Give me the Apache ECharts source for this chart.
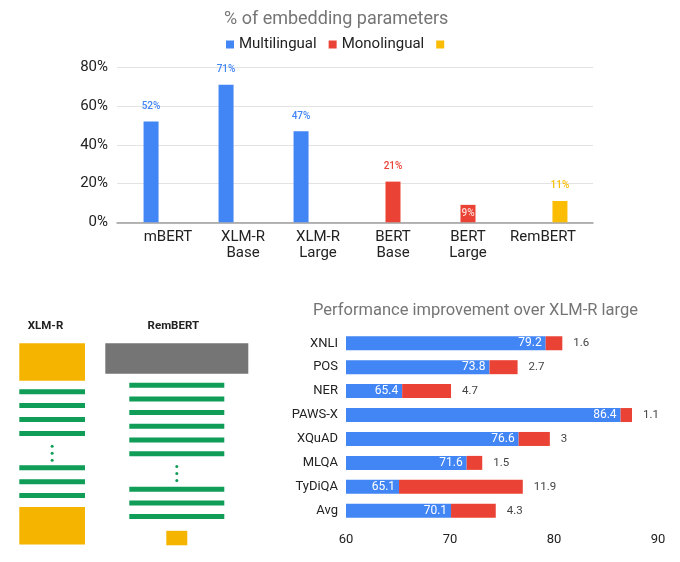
<!DOCTYPE html>
<html>
<head>
<meta charset="utf-8">
<script src="https://cdn.jsdelivr.net/npm/echarts@6/dist/echarts.min.js"></script>
<style>html,body{margin:0;padding:0;background:#fff}#c{width:680px;height:562px}</style>
</head>
<body>
<div id="c"></div>
<script>
// ---- Top chart data ----
const models = ['mBERT', 'XLM-R\nBase', 'XLM-R\nLarge', 'BERT\nBase', 'BERT\nLarge', 'RemBERT'];
const multilingualPct = [52, 71, 47, null, null, null];
const monolingualPct = [null, null, null, 21, 9, null];
const rembertPct = [null, null, null, null, null, 11];
const pctTicks = [0, 20, 40, 60, 80];

// ---- Bottom chart data ----
const tasks = ['XNLI', 'POS', 'NER', 'PAWS-X', 'XQuAD', 'MLQA', 'TyDiQA', 'Avg'];
const xlmrLarge = [79.2, 73.8, 65.4, 86.4, 76.6, 71.6, 65.1, 70.1];
const rembertGain = [1.6, 2.7, 4.7, 1.1, 3, 1.5, 11.9, 4.3];
const scoreTicks = [60, 70, 80, 90];

// ---- Diagram structure ----
const xlmrStack = ['emb', 'layer', 'layer', 'layer', 'layer', 'dots', 'layer', 'layer', 'layer', 'emb'];
const rembertStack = ['proj', 'layer', 'layer', 'layer', 'layer', 'layer', 'layer', 'dots', 'layer', 'layer', 'layer', 'smallEmb'];

const BLUE = '#4285F4', RED = '#EA4335', YELLOW = '#FBBC04';
const GREEN = '#0F9D58', GOLD = '#F4B400', GRAY = '#757575';
const FONT = 'Roboto';

// build diagram graphics
function buildStack(stack, cfg) {
  const els = [];
  let y = cfg.top;
  stack.forEach(kind => {
    if (kind === 'emb') {
      els.push({type: 'rect', shape: {x: cfg.x, y: y, width: cfg.w, height: cfg.embH}, style: {fill: GOLD}});
      y += cfg.embH + cfg.afterEmb;
    } else if (kind === 'proj') {
      els.push({type: 'rect', shape: {x: cfg.projX, y: y, width: cfg.projW, height: cfg.projH}, style: {fill: GRAY}});
      y += cfg.projH + cfg.afterEmb;
    } else if (kind === 'layer') {
      els.push({type: 'rect', shape: {x: cfg.lx, y: y, width: cfg.lw, height: 5}, style: {fill: GREEN}});
      y += cfg.step;
    } else if (kind === 'dots') {
      for (let i = 0; i < 3; i++) {
        els.push({type: 'circle', shape: {cx: cfg.lx + cfg.lw / 2, cy: y + 1.5 + i * 7, r: 1.5}, style: {fill: GREEN}});
      }
      y += cfg.dotsH;
    } else if (kind === 'smallEmb') {
      els.push({type: 'rect', shape: {x: cfg.lx + cfg.lw / 2 - 10.5, y: y + 3, width: 21, height: 14.5}, style: {fill: GOLD}});
    }
  });
  return els;
}

const diagram = [].concat(
  buildStack(xlmrStack, {top: 343.3, x: 19.3, w: 65.7, embH: 37.4, afterEmb: 8.5, lx: 19.3, lw: 65.7, step: 13.9, dotsH: 20.5}),
  buildStack(rembertStack, {top: 343.3, projX: 105.3, projW: 143, projH: 30.4, afterEmb: 9, lx: 129.3, lw: 95, step: 13.7, dotsH: 21.8}),
  [
    {type: 'text', style: {text: 'XLM-R', x: 45.5, y: 325.7, align: 'center', verticalAlign: 'middle', fill: '#222', font: 'bold 11.5px ' + FONT}},
    {type: 'text', style: {text: 'RemBERT', x: 173.3, y: 325.7, align: 'center', verticalAlign: 'middle', fill: '#222', font: 'bold 11.5px ' + FONT}}
  ]
);

const chart = echarts.init(document.getElementById('c'), null, {renderer: 'canvas'});

const labelTop = (color) => ({show: true, position: 'top', distance: 10, color: color, fontSize: 10, fontFamily: FONT, fontWeight: 500, formatter: p => p.value == null ? '' : p.value + '%'});

const option = {
  backgroundColor: '#fff',
  animation: false,
  textStyle: {fontFamily: FONT},
  title: [
    {text: '% of embedding parameters', left: 219, top: 5, textStyle: {fontSize: 18, fontWeight: 'normal', color: GRAY, fontFamily: FONT}},
    {text: 'Performance improvement over XLM-R large', left: 308, top: 297, textStyle: {fontSize: 16.5, fontWeight: 'normal', color: GRAY, fontFamily: FONT}}
  ],
  legend: {
    left: 221, top: 32, itemWidth: 8, itemHeight: 8, itemGap: 12, icon: 'rect',
    textStyle: {fontSize: 15, color: '#222', fontFamily: FONT},
    data: ['Multilingual', 'Monolingual', ' ']
  },
  grid: [
    {left: 117, width: 476, top: 67.3, height: 155, containLabel: false},
    {left: 130.5, width: 450, top: 67.3, height: 155, containLabel: false},
    {left: 346, width: 312, top: 331.3, height: 191.4, containLabel: false}
  ],
  xAxis: [
    {gridIndex: 0, type: 'category', data: models, axisLabel: {show: false}, axisTick: {show: false},
     axisLine: {show: true, lineStyle: {color: '#9e9e9e', width: 1.5}}},
    {gridIndex: 1, type: 'category', data: models, axisLine: {show: false}, axisTick: {show: false},
     axisLabel: {fontSize: 15, color: '#222', margin: 7, lineHeight: 16, fontFamily: FONT, interval: 0}},
    {gridIndex: 2, type: 'value', min: scoreTicks[0], max: scoreTicks[scoreTicks.length - 1], interval: 10,
     splitLine: {show: false}, axisLine: {show: false}, axisTick: {show: false},
     axisLabel: {fontSize: 13, color: '#222', margin: 11, fontFamily: FONT}}
  ],
  yAxis: [
    {gridIndex: 0, type: 'value', min: pctTicks[0], max: pctTicks[pctTicks.length - 1], interval: 20,
     axisLabel: {formatter: '{value}%', fontSize: 15, color: '#222', margin: 9, fontFamily: FONT},
     splitLine: {lineStyle: {color: '#e3e3e3', width: 1}}, axisLine: {show: false}, axisTick: {show: false}},
    {gridIndex: 1, type: 'value', min: 0, max: 80, show: false},
    {gridIndex: 2, type: 'category', data: tasks, inverse: true, axisLine: {show: false}, axisTick: {show: false},
     axisLabel: {fontSize: 13, color: '#222', margin: 8, fontFamily: FONT}}
  ],
  series: [
    {name: 'Multilingual', type: 'bar', xAxisIndex: 1, yAxisIndex: 1, data: multilingualPct, barWidth: 15, barGap: '13%',
     itemStyle: {color: BLUE}, label: labelTop(BLUE)},
    {name: 'Monolingual', type: 'bar', xAxisIndex: 1, yAxisIndex: 1, barWidth: 15, barGap: '13%',
     data: monolingualPct.map(v => v != null && v < 15 ? {value: v, label: {position: 'insideTop', distance: 4, color: '#ffd9d4'}} : v),
     itemStyle: {color: RED}, label: labelTop(RED)},
    {name: ' ', type: 'bar', xAxisIndex: 1, yAxisIndex: 1, data: rembertPct, barWidth: 15, barGap: '13%',
     itemStyle: {color: YELLOW}, label: labelTop(YELLOW)},
    {name: 'XLM-R large', type: 'bar', xAxisIndex: 2, yAxisIndex: 2, stack: 'perf', data: xlmrLarge, barWidth: 14,
     itemStyle: {color: BLUE},
     label: {show: true, position: 'insideRight', distance: 4, color: '#fff', fontSize: 12, fontFamily: FONT}},
    {name: 'RemBERT gain', type: 'bar', xAxisIndex: 2, yAxisIndex: 2, stack: 'perf', data: rembertGain, barWidth: 14,
     itemStyle: {color: RED},
     label: {show: true, position: 'right', distance: 11, color: '#444', fontSize: 11.5, fontFamily: FONT}}
  ],
  graphic: diagram
};
chart.setOption(option);
</script>
</body>
</html>
